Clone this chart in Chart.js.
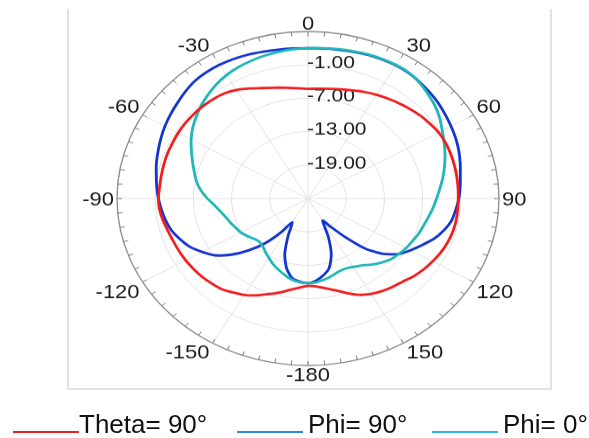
<!DOCTYPE html>
<html>
<head>
<meta charset="utf-8">
<script src="https://cdn.jsdelivr.net/npm/chart.js@4/dist/chart.umd.min.js"></script>
<style>
    html, body { margin: 0; padding: 0; background: #fff; }
    #wrap { position: relative; width: 589px; height: 438px; overflow: hidden; font-family: "Liberation Sans", Arial, sans-serif; }
    #frame { position: absolute; left: 67px; top: 9px; width: 481px; height: 379px; border: 2px solid #e2e2e2; border-top: none; }
    #plot { position: absolute; left: 0; top: 0; }
    .leg-text { position: absolute; top: 409px; font-size: 26px; line-height: 30px; color: #111; white-space: nowrap; }
    .leg-line { position: absolute; top: 431px; height: 2px; }
</style>
</head>
<body>
<div id="wrap">
    <div id="frame"></div>
    <canvas id="plot" width="589" height="501" style="width:589px;height:438px"></canvas>
    <div class="leg-line" style="left:13px;width:66px;background:#e32222"></div>
    <div class="leg-text" style="left:79px">Theta= 90°</div>
    <div class="leg-line" style="left:237px;width:66px;background:#2b8fd6"></div>
    <div class="leg-text" style="left:308px">Phi= 90°</div>
    <div class="leg-line" style="left:432px;width:66px;background:#2bbad3"></div>
    <div class="leg-text" style="left:503px">Phi= 0°</div>
</div>
<script>
// angles in degrees, clockwise from the top, 5 degree steps
const angles = [0, 5, 10, 15, 20, 25, 30, 35, 40, 45, 50, 55, 60, 65, 70, 75, 80, 85,
    90, 95, 100, 105, 110, 115, 120, 125, 130, 135, 140, 145, 150, 155, 160, 165, 170, 175,
    180, 185, 190, 195, 200, 205, 210, 215, 220, 225, 230, 235, 240, 245, 250, 255, 260, 265,
    270, 275, 280, 285, 290, 295, 300, 305, 310, 315, 320, 325, 330, 335, 340, 345, 350, 355];

// gain in dB for each angle above
const theta90 = [-5.3, -5.2, -5.0, -4.7, -4.35, -3.9, -3.5, -3.1, -2.7, -2.3, -1.9, -1.6, -1.3, -1.2, -1.2, -1.25, -1.3, -1.35,
    -1.4, -1.4, -1.4, -1.5, -1.7, -2.0, -2.4, -2.8, -3.3, -3.9, -4.3, -4.7, -5.2, -5.9, -6.9, -7.9, -8.6, -9.1,
    -9.3, -8.9, -8.3, -7.5, -6.7, -5.8, -5.0, -4.4, -3.8, -3.5, -3.2, -3.0, -2.8, -2.65, -2.5, -2.25, -1.9, -1.6,
    -1.5, -1.6, -1.6, -1.55, -1.5, -1.5, -1.45, -1.45, -1.5, -1.6, -1.75, -2.0, -2.5, -3.2, -3.9, -4.4, -4.8, -5.1];

const phi90 = [2.0, 2.05, 2.15, 2.3, 2.45, 2.55, 2.6, 2.55, 2.3, 2.0, 1.7, 1.3, 0.95, 0.6, 0.2, -0.25, -0.7, -1.0,
    -1.3, -1.7, -2.1, -2.9, -3.9, -5.2, -6.4, -7.6, -9.5, -12.2, -16.0, -18.8, -20.4, -17.5, -14.3, -12.1, -11.0, -10.2,
    -9.8, -10.0, -10.5, -12.0, -14.3, -17.6, -20.1, -17.5, -14.5, -11.8, -9.3, -7.2, -5.8, -4.5, -3.6, -2.8, -2.3, -1.9,
    -1.5, -1.15, -0.8, -0.35, 0.05, 0.5, 0.95, 1.35, 1.75, 2.2, 2.6, 2.75, 2.75, 2.65, 2.5, 2.3, 2.15, 2.05];

const phi0 = [2.0, 2.1, 2.25, 2.4, 2.55, 2.65, 2.7, 2.6, 2.2, 1.6, 1.0, 0.25, -0.65, -1.4, -2.1, -2.8, -3.5, -4.2,
    -4.8, -5.3, -5.8, -6.2, -6.5, -6.9, -7.2, -7.6, -8.0, -8.7, -9.5, -10.3, -10.8, -11.1, -11.0, -10.6, -10.2, -9.9,
    -9.8, -9.9, -10.2, -10.8, -11.4, -12.0, -12.7, -13.3, -13.9, -14.1, -13.8, -13.3, -12.8, -12.5, -12.1, -11.7, -11.1, -10.3,
    -9.2, -8.1, -7.2, -6.5, -5.7, -4.8, -3.8, -2.9, -2.1, -1.3, -0.6, 0.05, 0.6, 1.0, 1.3, 1.55, 1.75, 1.9];

// radial axis
const rMin = -25;
const rMax = 5;
const rStep = 6;

// shown angle labels (-180..150)
const angleLabels = angles.map(a => (a >= 180 ? a - 360 : a));

const FONT = '"Liberation Sans", Arial, sans-serif';

const polarDecor = {
    id: "polarDecor",
    beforeDatasetsDraw(chart) {
        const r = chart.scales.r;
        const ctx = chart.ctx;
        const R = r.drawingArea;
        ctx.save();

        // small ticks on the outer ring
        ctx.strokeStyle = "#7a7a7a";
        ctx.lineWidth = 1;
        ctx.beginPath();
        angles.forEach((a, i) => {
            const p1 = r.getPointPosition(i, R);
            const p2 = r.getPointPosition(i, R - 5);
            ctx.moveTo(p1.x, p1.y);
            ctx.lineTo(p2.x, p2.y);
        });
        ctx.stroke();

        // radial value labels
        ctx.fillStyle = "#1a1a1a";
        ctx.font = "21px " + FONT;
        ctx.textAlign = "left";
        ctx.textBaseline = "alphabetic";
        r.ticks.forEach((t) => {
            if (t.value <= rMin || t.value >= rMax) return;
            const p = r.getPointPositionForValue(0, t.value);
            ctx.fillText(t.value.toFixed(2), p.x - 1, p.y - 3.8 + 0.358 * 21);
        });

        // angle labels
        const fs = 22;
        const capH = 0.716 * fs;
        ctx.font = fs + "px " + FONT;
        angles.forEach((a, i) => {
            if (a % 30 !== 0) return;
            const p = r.getPointPosition(i, R);
            const s = Math.sin(a * Math.PI / 180);
            const c = Math.cos(a * Math.PI / 180);
            let x = p.x;
            let y;
            if (s > 0.01) { ctx.textAlign = "left"; x += 3; }
            else if (s < -0.01) { ctx.textAlign = "right"; x -= 3; }
            else ctx.textAlign = "center";
            if (c > 0.01) y = p.y - 2.3;
            else if (c < -0.01) y = p.y + 2.3 + capH;
            else y = p.y + capH / 2;
            ctx.fillText(String(angleLabels[i]), x, y);
        });

        ctx.restore();
    }
};

const ctx = document.getElementById("plot").getContext("2d");
new Chart(ctx, {
    type: "radar",
    data: {
        labels: angleLabels,
        datasets: [
            { label: "Theta= 90°", data: theta90, borderColor: "#f41c1c" },
            { label: "Phi= 0°", data: phi0, borderColor: "#1eb6b6" },
            { label: "Phi= 90°", data: phi90, borderColor: "#1434d0" }
        ]
    },
    options: {
        responsive: false,
        animation: false,
        devicePixelRatio: 1,
        layout: { padding: { left: 117, right: 90, top: 36, bottom: 83 } },
        plugins: { legend: { display: false }, tooltip: { enabled: false } },
        elements: {
            point: { radius: 0, hoverRadius: 0 },
            line: { tension: 0.2, borderWidth: 2.8, fill: false }
        },
        scales: {
            r: {
                min: rMin,
                max: rMax,
                ticks: { stepSize: rStep, display: false },
                pointLabels: { display: false },
                grid: {
                    circular: true,
                    color: (c) => (c.tick && c.tick.value === rMax ? "#8a8a8a" : "#e2e2e2"),
                    lineWidth: (c) => (c.tick && c.tick.value === rMax ? 1.3 : 1)
                },
                angleLines: {
                    color: (c) => (c.index % 6 === 0 ? "#e2e2e2" : "rgba(0,0,0,0)"),
                    lineWidth: 1
                }
            }
        }
    },
    plugins: [polarDecor]
});
</script>
</body>
</html>
